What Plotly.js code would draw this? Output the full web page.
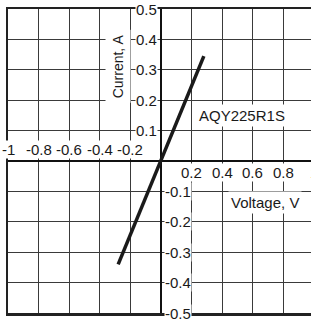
<!DOCTYPE html>
<html>
<head>
<meta charset="utf-8">
<script src="https://cdn.plot.ly/plotly-3.0.1.min.js"></script>
<style>
html,body{margin:0;padding:0;overflow:hidden;background:#fff;width:311px;height:320px;}
#chart{width:314px;height:320px;}
</style>
</head>
<body>
<div id="chart"></div>
<script>
// Data
const voltage = [-0.28, 0, 0.28];
const current = [-0.34, 0, 0.345];
const seriesName = 'AQY225R1S';

// Tick labels
const xNegTickVals = [-1, -0.8, -0.6, -0.4, -0.2];
const xNegTickText = ['-1', '-0.8', '-0.6', '-0.4', '-0.2'];
const xPosTickVals = [0.2, 0.4, 0.6, 0.8, 1];
const xPosTickText = ['0.2', '0.4', '0.6', '0.8', '1'];
const yPosTickVals = [0.5, 0.4, 0.3, 0.2, 0.1];
const yPosTickText = ['0.5', '0.4', '0.3', '0.2', '0.1'];
const yNegTickVals = [-0.1, -0.2, -0.3, -0.4, -0.5];
const yNegTickText = ['-0.1', '-0.2', '-0.3', '-0.4', '-0.5'];

const xTitle = 'Voltage, V';
const yTitle = 'Current, A';

const FONT = 'Liberation Sans, Arial, Helvetica, sans-serif';
const txt = {family: FONT, size: 15, color: '#1a1a1a'};

const annotations = [];
xNegTickVals.forEach((v, i) => annotations.push({
  x: v, y: 0, xref: 'x', yref: 'y', text: xNegTickText[i], showarrow: false,
  xanchor: 'center', yanchor: 'bottom', yshift: 2, bgcolor: 'white', borderpad: 0, font: txt
}));
xPosTickVals.forEach((v, i) => annotations.push({
  x: v, y: 0, xref: 'x', yref: 'y', text: xPosTickText[i], showarrow: false,
  xanchor: 'center', yanchor: 'top', yshift: -2, bgcolor: 'white', borderpad: 0, font: txt
}));
yPosTickVals.forEach((v, i) => annotations.push({
  x: 0, y: v, xref: 'x', yref: 'y', text: yPosTickText[i], showarrow: false,
  xanchor: 'right', yanchor: 'middle', xshift: -3, bgcolor: 'white', borderpad: 0, font: txt
}));
yNegTickVals.forEach((v, i) => annotations.push({
  x: 0, y: v, xref: 'x', yref: 'y', text: yNegTickText[i], showarrow: false,
  xanchor: 'left', yanchor: 'middle', xshift: 3, bgcolor: 'white', borderpad: 0, font: txt
}));
annotations.push({
  x: 0.68, y: -0.135, xref: 'x', yref: 'y', text: xTitle, showarrow: false,
  bgcolor: 'white', borderpad: 2, font: txt
});
annotations.push({
  x: -0.28, y: 0.312, xref: 'x', yref: 'y', text: yTitle, showarrow: false, textangle: -90,
  bgcolor: 'white', borderpad: 4, font: {family: FONT, size: 14, color: '#1a1a1a'}
});
annotations.push({
  x: 0.53, y: 0.151, xref: 'x', yref: 'y', text: seriesName, showarrow: false,
  bgcolor: 'white', borderpad: 2, font: txt
});

const trace = {
  x: voltage, y: current, type: 'scatter', mode: 'lines',
  line: {color: '#1a1a1a', width: 3.5}, hoverinfo: 'skip', showlegend: false
};

const layout = {
  width: 314, height: 320,
  margin: {l: 8, r: 0, t: 9, b: 7, pad: 0},
  paper_bgcolor: 'white', plot_bgcolor: 'white',
  showlegend: false,
  xaxis: {
    range: [-1, 1], dtick: 0.2, tick0: 0, showticklabels: false, ticks: '',
    showgrid: true, gridcolor: '#3a3a3a', gridwidth: 1.3,
    zeroline: true, zerolinecolor: '#111', zerolinewidth: 2.5,
    showline: true, mirror: true, linecolor: '#222', linewidth: 2.5, fixedrange: true
  },
  yaxis: {
    range: [-0.5, 0.5], dtick: 0.1, tick0: 0, showticklabels: false, ticks: '',
    showgrid: true, gridcolor: '#3a3a3a', gridwidth: 1.3,
    zeroline: true, zerolinecolor: '#111', zerolinewidth: 2.5,
    showline: true, mirror: true, linecolor: '#222', linewidth: 2.5, fixedrange: true
  },
  annotations: annotations
};

Plotly.newPlot('chart', [trace], layout, {displayModeBar: false, staticPlot: true});
</script>
</body>
</html>
